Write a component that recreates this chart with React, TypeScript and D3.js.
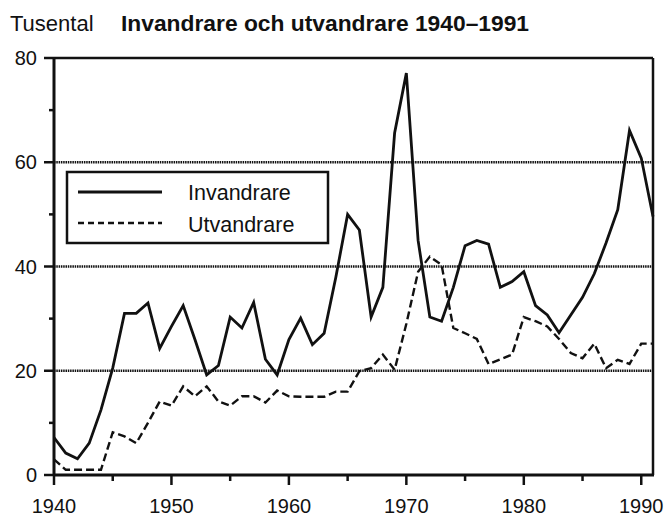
import React from "react";
import * as d3 from "d3";

const years: number[] = d3.range(1940, 1992);

const invandrare: number[] = [
  7.2, 4.2, 3.1, 6.1, 12.5, 20.5, 31, 31, 33, 24.3,
  28.5, 32.5, 26, 19.2, 21, 30.3, 28.2, 33.1, 22.2, 19.2,
  26, 30.1, 25, 27.2, 38, 50, 47, 30.3, 36, 65.6,
  77.1, 45, 30.3, 29.5, 36, 44, 45, 44.3, 36, 37.1,
  39, 32.5, 30.7, 27.3, 30.7, 34.1, 38.6, 44.5, 50.9, 66.1,
  60.8, 49.6,
];

const utvandrare: number[] = [
  3, 1, 1, 1, 1, 8.2, 7.4, 6.1, 10, 14.1,
  13.3, 17, 15.1, 17, 14.1, 13.3, 15.1, 15.1, 13.9, 16.2,
  15.1, 15, 15, 15, 16, 16, 19.9, 20.5, 23.1, 20.2,
  29, 39, 41.9, 40.3, 28.2, 27.2, 26.1, 21.3, 22.2, 23.1,
  30.3, 29.5, 28.5, 26.1, 23.4, 22.4, 25.2, 20.5, 22.1, 21.3,
  25.2, 25.2,
];

const yMajorTicks: number[] = [0, 20, 40, 60, 80];
const yMinorTicks: number[] = [10, 30, 50, 70];
const xMajorTicks: number[] = [1940, 1950, 1960, 1970, 1980, 1990];
const xMinorTicks: number[] = [1945, 1955, 1965, 1975, 1985];
const gridValues: number[] = [20, 40, 60];

const unitLabel = "Tusental";
const title = "Invandrare och utvandrare 1940\u20131991";
const seriesNames: string[] = ["Invandrare", "Utvandrare"];

const FONT = "'Liberation Sans', Arial, Helvetica, sans-serif";

export default function App() {
  const W = 666;
  const H = 519;
  const x = d3.scaleLinear().domain([1940, 1991]).range([54, 653]);
  const y = d3.scaleLinear().domain([0, 80]).range([475, 58]);

  const line = d3
    .line<number>()
    .x((_, i) => x(years[i]))
    .y((d) => y(d));

  const x0 = x(1940);
  const x1 = x(1991);

  return (
    <svg
      width={W}
      height={H}
      style={{ position: "absolute", left: 0, top: 0, background: "#fff" }}
      fontFamily={FONT}
    >
      <rect x={0} y={0} width={W} height={H} fill="#fff" />
      {/* titles */}
      <text x={10} y={31} fontSize={22} fill="#111">
        {unitLabel}
      </text>
      <text x={121} y={31} fontSize={22.8} fontWeight="bold" fill="#111">
        {title}
      </text>

      {/* gridlines */}
      {gridValues.map((v) => (
        <line
          key={"g" + v}
          x1={x0}
          x2={x1}
          y1={y(v)}
          y2={y(v)}
          stroke="#111"
          strokeWidth={2.4}
          strokeDasharray="1.5,0.8"
        />
      ))}

      {/* series */}
      <path
        d={line(utvandrare) || ""}
        fill="none"
        stroke="#111"
        strokeWidth={2.4}
        strokeDasharray="8,4"
        strokeLinejoin="miter"
      />
      <path
        d={line(invandrare) || ""}
        fill="none"
        stroke="#111"
        strokeWidth={2.8}
        strokeLinejoin="miter"
      />

      {/* frame */}
      <line x1={x0} x2={x1} y1={y(80)} y2={y(80)} stroke="#111" strokeWidth={2.5} />
      <line x1={x1} x2={x1} y1={y(80)} y2={y(0)} stroke="#111" strokeWidth={2.5} />
      <line x1={x0} x2={x0} y1={y(80) - 1} y2={y(0) + 1} stroke="#111" strokeWidth={3} />
      <line x1={x0 - 1} x2={x1 + 1} y1={y(0)} y2={y(0)} stroke="#111" strokeWidth={3} />

      {/* y ticks */}
      {yMajorTicks.map((v) => (
        <g key={"ym" + v}>
          <line x1={x0 - 10} x2={x0} y1={y(v)} y2={y(v)} stroke="#111" strokeWidth={2.5} />
          <text
            x={37}
            y={y(v)}
            dy="0.36em"
            textAnchor="end"
            fontSize={20}
            fill="#111"
          >
            {v}
          </text>
        </g>
      ))}
      {yMinorTicks.map((v) => (
        <line key={"yn" + v} x1={x0 - 5} x2={x0} y1={y(v)} y2={y(v)} stroke="#111" strokeWidth={2.5} />
      ))}

      {/* x ticks */}
      {xMajorTicks.map((v) => (
        <g key={"xm" + v}>
          <line x1={x(v)} x2={x(v)} y1={y(0)} y2={y(0) + 10} stroke="#111" strokeWidth={2.5} />
          <text x={x(v)} y={513} textAnchor="middle" fontSize={20} fill="#111">
            {v}
          </text>
        </g>
      ))}
      {xMinorTicks.map((v) => (
        <line key={"xn" + v} x1={x(v)} x2={x(v)} y1={y(0)} y2={y(0) + 6} stroke="#111" strokeWidth={2.5} />
      ))}

      {/* legend */}
      <rect x={67} y={172} width={261} height={71} fill="#fff" stroke="#111" strokeWidth={2.5} />
      <line x1={78} x2={162} y1={192} y2={192} stroke="#111" strokeWidth={2.8} />
      <line x1={78} x2={162} y1={223} y2={223} stroke="#111" strokeWidth={2.4} strokeDasharray="6,4" />
      <text x={188} y={200} fontSize={21.5} fill="#111">
        {seriesNames[0]}
      </text>
      <text x={188} y={232} fontSize={21.5} fill="#111">
        {seriesNames[1]}
      </text>
    </svg>
  );
}
